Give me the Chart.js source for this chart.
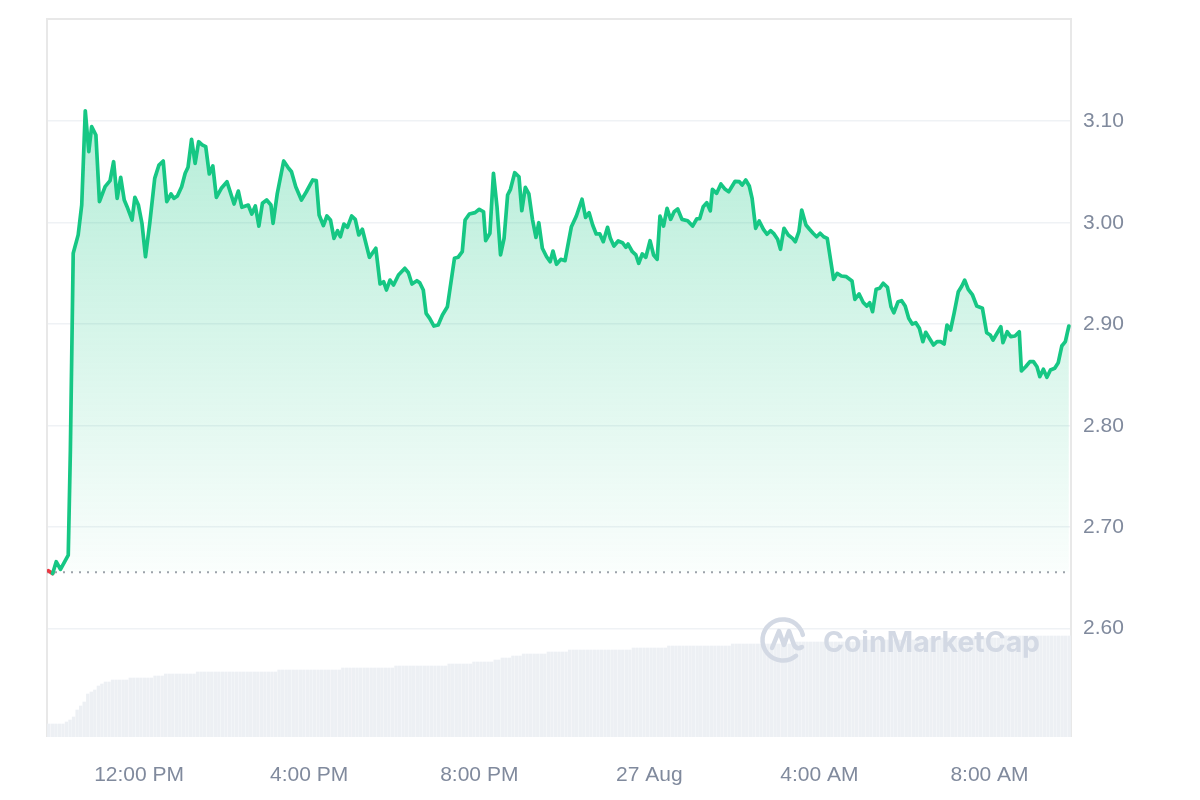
<!DOCTYPE html>
<html>
<head>
<meta charset="utf-8">
<script src="https://cdn.jsdelivr.net/npm/chart.js@4.4.1/dist/chart.umd.min.js"></script>
<style>
  html, body { margin: 0; background: #fff; }
  #wrap { width: 1200px; height: 800px; }
</style>
</head>
<body>
<div id="wrap"><canvas id="chart"></canvas></div>
<script>
"use strict";

// minutes since 00:00 on 26 Aug (590 = 9:50 AM, 1440 = 27 Aug 00:00)
const priceMinutes = [
  592, 598, 603, 609, 620, 623, 627, 634, 639, 644,
  649, 653, 659, 664, 672, 679, 684, 689, 694, 699,
  703, 710, 714, 719, 724, 729, 735, 742, 748, 754,
  759, 765, 769, 774, 780, 785, 789, 794, 799, 804,
  809, 814, 819, 824, 829, 836, 844, 854, 860, 865,
  874, 879, 884, 889, 894, 900, 906, 909, 915, 924,
  930, 935, 941, 949, 956, 965, 970, 974, 980, 985,
  990, 995, 1000, 1004, 1009, 1014, 1020, 1025, 1030, 1035,
  1045, 1054, 1060, 1065, 1069, 1074, 1079, 1086, 1095, 1100,
  1105, 1112, 1116, 1121, 1125, 1130, 1136, 1142, 1148, 1155,
  1165, 1170, 1176, 1180, 1186, 1194, 1200, 1206, 1209, 1215,
  1220, 1225, 1230, 1235, 1240, 1244, 1250, 1256, 1260, 1265,
  1270, 1275, 1280, 1284, 1289, 1295, 1300, 1304, 1309, 1315,
  1321, 1326, 1330, 1337, 1345, 1350, 1355, 1360, 1365, 1370,
  1375, 1381, 1385, 1390, 1396, 1402, 1407, 1410, 1416, 1421,
  1425, 1430, 1435, 1441, 1446, 1451, 1455, 1460, 1465, 1470,
  1475, 1480, 1486, 1494, 1501, 1507, 1511, 1516, 1521, 1526,
  1529, 1535, 1541, 1547, 1552, 1561, 1567, 1571, 1576, 1581,
  1585, 1590, 1595, 1601, 1606, 1611, 1616, 1621, 1625, 1630,
  1636, 1642, 1646, 1651, 1655, 1661, 1666, 1671, 1676, 1681,
  1686, 1691, 1700, 1705, 1711, 1718, 1726, 1730, 1736, 1742,
  1747, 1751, 1755, 1760, 1765, 1770, 1776, 1781, 1785, 1791,
  1796, 1801, 1806, 1811, 1816, 1821, 1826, 1830, 1836, 1841,
  1846, 1851, 1856, 1860, 1865, 1870, 1876, 1881, 1885, 1890,
  1896, 1902, 1910, 1916, 1921, 1925, 1930, 1936, 1939, 1945,
  1950, 1956, 1962, 1965, 1971, 1977, 1982, 1987, 1991, 1996,
  2001, 2006, 2012, 2017, 2022, 2027, 2032,
];

const priceValues = [
  2.6571, 2.6543, 2.666, 2.6585, 2.6726, 2.776, 2.970, 2.988, 3.0174, 3.1103,
  3.070, 3.0946, 3.0864, 3.0207, 3.0355, 3.0414, 3.0601, 3.024, 3.0447, 3.0224,
  3.0158, 3.0027, 3.025, 3.0174, 2.9994, 2.9665, 2.9994, 3.0437, 3.0568, 3.0608,
  3.0207, 3.0283, 3.024, 3.0263, 3.0355, 3.0487, 3.0546, 3.0822, 3.0585, 3.0798,
  3.0766, 3.0749, 3.048, 3.0559, 3.025, 3.0339, 3.0404, 3.0184, 3.0312, 3.0152,
  3.0174, 3.0086, 3.0165, 2.9967, 3.0191, 3.0224, 3.0174, 2.9994, 3.029, 3.0608,
  3.0546, 3.0502, 3.0355, 3.0224, 3.0305, 3.0421, 3.0414, 3.0076, 2.9972, 3.0066,
  3.0027, 2.9846, 2.9921, 2.9862, 2.9987, 2.9955, 3.0066, 3.0033, 2.9879, 2.9935,
  2.9659, 2.9748, 2.9396, 2.9419, 2.9337, 2.9435, 2.9386, 2.9485, 2.9551, 2.9507,
  2.9396, 2.9429, 2.9409, 2.9337, 2.9107, 2.9058, 2.8982, 2.8992, 2.9091, 2.9172,
  2.9649, 2.9659, 2.9714, 3.0027, 3.0086, 3.0099, 3.0132, 3.0108, 2.9823, 2.9896,
  3.0487, 3.0158, 2.9682, 2.9846, 3.0273, 3.0329, 3.0493, 3.0453, 3.0118, 3.0349,
  3.0283, 3.0033, 2.9856, 3.0000, 2.9748, 2.9665, 2.9616, 2.9721, 2.959, 2.9639,
  2.9626, 2.9813, 2.9961, 3.0066, 3.0231, 3.0053, 3.0099, 2.9977, 2.9889, 2.9891,
  2.9813, 2.9955, 2.9846, 2.977, 2.982, 2.9803, 2.9758, 2.979, 2.9714, 2.9682,
  2.96, 2.9692, 2.9659, 2.9823, 2.9682, 2.9639, 3.0066, 2.9967, 3.0142, 3.0033,
  3.0108, 3.0135, 3.0033, 3.002, 2.9967, 3.0039, 3.0039, 3.0158, 3.0197, 3.0118,
  3.0329, 3.029, 3.0381, 3.0329, 3.0305, 3.0408, 3.0404, 3.0371, 3.0421, 3.0362,
  3.024, 2.9945, 3.0017, 2.9935, 2.9886, 2.9921, 2.9889, 2.9836, 2.9738, 2.9945,
  2.9879, 2.9846, 2.9813, 2.9911, 3.0125, 2.9977, 2.9935, 2.9896, 2.9862, 2.9896,
  2.9862, 2.9846, 2.9442, 2.9501, 2.9475, 2.9468, 2.9426, 2.9245, 2.9298, 2.9212,
  2.9179, 2.9212, 2.9123, 2.9344, 2.9354, 2.9403, 2.9364, 2.9172, 2.9113, 2.9222,
  2.9232, 2.9179, 2.9058, 2.9002, 2.9015, 2.896, 2.8828, 2.892, 2.8851, 2.8795,
  2.8828, 2.8828, 2.8805, 2.8992, 2.8943, 2.9107, 2.932, 2.9376, 2.9435, 2.9344,
  2.9288, 2.9179, 2.9157, 2.8916, 2.8894, 2.8844, 2.8903, 2.8975, 2.8818, 2.8926,
  2.8877, 2.8884, 2.8926, 2.8539, 2.8581, 2.8631, 2.8631, 2.8581, 2.8483, 2.8556,
  2.8477, 2.8549, 2.8566, 2.8621, 2.8785, 2.8828, 2.8982,
];

// 24h volume (millions), one bar per 5 minutes
const volumeValues = [
  1.3, 1.3, 1.3, 1.3, 1.3,
  1.5, 1.7, 2.0, 2.7, 3.1, 3.5, 4.3, 4.5, 4.7, 5.1, 5.3,
  5.5, 5.5,
  5.7, 5.7, 5.7, 5.7, 5.7,
  5.9, 5.9, 5.9, 5.9, 5.9, 5.9, 5.9,
  6.1, 6.1, 6.1,
  6.3, 6.3, 6.3, 6.3, 6.3, 6.3, 6.3, 6.3, 6.3,
  6.5, 6.5, 6.5, 6.5, 6.5, 6.5, 6.5, 6.5, 6.5, 6.5,
  6.5, 6.5, 6.5, 6.5, 6.5, 6.5, 6.5, 6.5, 6.5, 6.5,
  6.5, 6.5, 6.5,
  6.7, 6.7, 6.7, 6.7, 6.7, 6.7, 6.7, 6.7, 6.7, 6.7,
  6.7, 6.7, 6.7, 6.7, 6.7, 6.7, 6.7, 6.7,
  6.9, 6.9, 6.9, 6.9, 6.9, 6.9, 6.9, 6.9, 6.9, 6.9, 6.9, 6.9, 6.9, 6.9, 6.9,
  7.1, 7.1, 7.1, 7.1, 7.1, 7.1, 7.1, 7.1, 7.1, 7.1, 7.1, 7.1, 7.1, 7.1, 7.1,
  7.3, 7.3, 7.3, 7.3, 7.3, 7.3, 7.3,
  7.5, 7.5, 7.5, 7.5, 7.5, 7.5,
  7.7, 7.7,
  7.9, 7.9, 7.9,
  8.1, 8.1, 8.1,
  8.3, 8.3, 8.3, 8.3, 8.3, 8.3, 8.3,
  8.5, 8.5, 8.5, 8.5, 8.5, 8.5,
  8.7, 8.7, 8.7, 8.7, 8.7, 8.7, 8.7, 8.7, 8.7, 8.7,
  8.7, 8.7, 8.7, 8.7, 8.7, 8.7, 8.7, 8.7,
  8.9, 8.9, 8.9, 8.9, 8.9, 8.9, 8.9, 8.9, 8.9, 8.9,
  9.1, 9.1, 9.1, 9.1, 9.1, 9.1, 9.1, 9.1, 9.1, 9.1,
  9.1, 9.1, 9.1, 9.1, 9.1, 9.1, 9.1, 9.1,
  9.3, 9.3, 9.3, 9.3, 9.3, 9.3, 9.3, 9.3, 9.3, 9.3,
  9.3, 9.3, 9.3, 9.3, 9.3, 9.3, 9.3,
  9.5, 9.5, 9.5, 9.5, 9.5, 9.5, 9.5, 9.5, 9.5, 9.5,
  9.5, 9.5, 9.5, 9.5, 9.5, 9.5, 9.5, 9.5, 9.5,
  9.7, 9.7, 9.7, 9.7, 9.7, 9.7, 9.7, 9.7, 9.7, 9.7,
  9.7, 9.7, 9.7, 9.7, 9.7, 9.7, 9.7, 9.7, 9.7, 9.7,
  9.9, 9.9, 9.9, 9.9, 9.9, 9.9, 9.9, 9.9, 9.9, 9.9,
  9.9, 9.9, 9.9, 9.9, 9.9, 9.9, 9.9, 9.9, 9.9, 9.9,
  10.1, 10.1, 10.1, 10.1, 10.1, 10.1, 10.1, 10.1, 10.1, 10.1,
  10.1, 10.1, 10.1, 10.1, 10.1, 10.1, 10.1, 10.1, 10.1, 10.1,
];
const VOLUME_START = 592.5;
const VOLUME_STEP = 5;
const volumeMinutes = volumeValues.map((_, i) => VOLUME_START + i * VOLUME_STEP);

const OPEN_PRICE = 2.6556;
const RANGE_MINUTES = [590, 2035];
const PRICE_RANGE = [2.4933, 3.2007];
const VOLUME_MAX = 71.8;

const xTickMinutes = [720, 960, 1200, 1440, 1680, 1920];
const xTickLabels = ["12:00 PM", "4:00 PM", "8:00 PM", "27 Aug", "4:00 AM", "8:00 AM"];
const yTicks = [2.6, 2.7, 2.8, 2.9, 3.0, 3.1];

const GREEN = "#16c784";
const RED = "#ea3943";
const TICK_COLOR = "#808a9d";
const FONT = "'Liberation Sans', Arial, sans-serif";

const $ = (id) => document.getElementById(id);

function areaGradient(context) {
  const chart = context.chart;
  const { ctx, chartArea, scales } = chart;
  if (!chartArea) return "rgba(22,199,132,0.2)";
  const baseY = scales.y.getPixelForValue(OPEN_PRICE);
  const g = ctx.createLinearGradient(0, chartArea.top, 0, baseY);
  g.addColorStop(0, "rgba(22,199,132,0.38)");
  g.addColorStop(0.55, "rgba(22,199,132,0.18)");
  g.addColorStop(1, "rgba(22,199,132,0.02)");
  return g;
}

// no edge padding for the end labels: the plot box is fixed
function noEdgePadding(s) {
  s.paddingTop = 0;
  s.paddingBottom = 0;
  s.paddingLeft = 0;
  s.paddingRight = 0;
}

const framePlugin = {
  id: "frame",
  beforeDatasetsDraw(chart) {
    const { ctx, chartArea: a } = chart;
    ctx.save();
    ctx.strokeStyle = "#e8e8e8";
    ctx.lineWidth = 2;
    ctx.beginPath();
    ctx.moveTo(a.left, a.bottom);
    ctx.lineTo(a.left, a.top);
    ctx.lineTo(a.right, a.top);
    ctx.lineTo(a.right, a.bottom);
    ctx.stroke();
    ctx.restore();
  },
};

const watermarkPlugin = {
  id: "watermark",
  afterDatasetsDraw(chart) {
    const { ctx, chartArea: a } = chart;
    const cx = a.right - 288, cy = a.bottom - 97;
    ctx.save();
    ctx.strokeStyle = "#d3d9e4";
    ctx.fillStyle = "#d3d9e4";
    ctx.lineWidth = 4.5;
    ctx.lineCap = "round";
    ctx.lineJoin = "round";
    ctx.beginPath();
    ctx.arc(cx, cy, 20.5, 0.28 * Math.PI, 1.92 * Math.PI);
    ctx.stroke();
    ctx.beginPath();
    ctx.moveTo(cx - 11, cy + 8);
    ctx.lineTo(cx - 4, cy - 9);
    ctx.lineTo(cx + 1, cy + 5);
    ctx.lineTo(cx + 6, cy - 9);
    ctx.lineTo(cx + 11, cy + 5);
    ctx.quadraticCurveTo(cx + 14, cy + 10, cx + 19, cy + 7);
    ctx.stroke();
    ctx.font = `700 29px Inter, 'Noto Sans', sans-serif`;
    ctx.textBaseline = "alphabetic";
    ctx.textAlign = "left";
    const text = "CoinMarketCap";
    const w = ctx.measureText(text).width;
    const sx = 217 / w;
    ctx.translate(cx + 40, cy + 12);
    ctx.scale(sx, 1);
    ctx.fillText(text, 0, 0);
    ctx.restore();
  },
};

new Chart($("chart"), {
  data: {
    datasets: [
      {
        type: "line",
        label: "Price",
        data: priceMinutes.map((m, i) => ({ x: m, y: priceValues[i] })),
        borderColor: GREEN,
        borderWidth: 3.7,
        borderJoinStyle: "round",
        borderCapStyle: "round",
        pointRadius: 0,
        tension: 0,
        fill: { value: OPEN_PRICE },
        backgroundColor: areaGradient,
        segment: {
          borderColor: (c) => (c.p1.parsed.y < OPEN_PRICE ? RED : undefined),
        },
        order: 0,
      },
      {
        type: "line",
        label: "Open",
        data: [
          { x: RANGE_MINUTES[0], y: OPEN_PRICE },
          { x: RANGE_MINUTES[1], y: OPEN_PRICE },
        ],
        borderColor: "#9ea3ab",
        borderWidth: 2,
        borderDash: [2, 6],
        pointRadius: 0,
        fill: false,
        order: 1,
      },
      {
        type: "bar",
        label: "Volume",
        yAxisID: "yv",
        data: volumeMinutes.map((m, i) => ({ x: m, y: volumeValues[i] })),
        backgroundColor: "#edf0f4",
        barThickness: 2.7,
        order: 2,
      },
    ],
  },
  options: {
    responsive: true,
    maintainAspectRatio: false,
    animation: false,
    layout: { padding: { left: 47, top: 19, right: 0, bottom: 0 } },
    plugins: { legend: { display: false }, tooltip: { enabled: false } },
    scales: {
      x: {
        type: "linear",
        offset: false,
        min: RANGE_MINUTES[0],
        max: RANGE_MINUTES[1],
        grid: { display: false, offset: false },
        border: { display: false },
        afterBuildTicks: (s) => { s.ticks = xTickMinutes.map((v) => ({ value: v })); },
        afterFit: (s) => { s.height = 63; noEdgePadding(s); },
        ticks: {
          autoSkip: false,
          maxRotation: 0,
          padding: 18,
          color: TICK_COLOR,
          font: { family: FONT, size: 21 },
          callback: (v, i) => xTickLabels[i],
        },
      },
      y: {
        position: "right",
        min: PRICE_RANGE[0],
        max: PRICE_RANGE[1],
        grid: { color: "#eff2f5", lineWidth: 1.5, drawTicks: false },
        border: { display: false },
        afterBuildTicks: (s) => { s.ticks = yTicks.map((v) => ({ value: v })); },
        afterFit: (s) => { s.width = 129; noEdgePadding(s); },
        ticks: {
          padding: 12,
          color: TICK_COLOR,
          font: { family: FONT, size: 21 },
          callback: (v) => Number(v).toFixed(2),
        },
      },
      yv: {
        display: false,
        min: 0,
        max: VOLUME_MAX,
      },
    },
  },
  plugins: [framePlugin, watermarkPlugin],
});
</script>
</body>
</html>
